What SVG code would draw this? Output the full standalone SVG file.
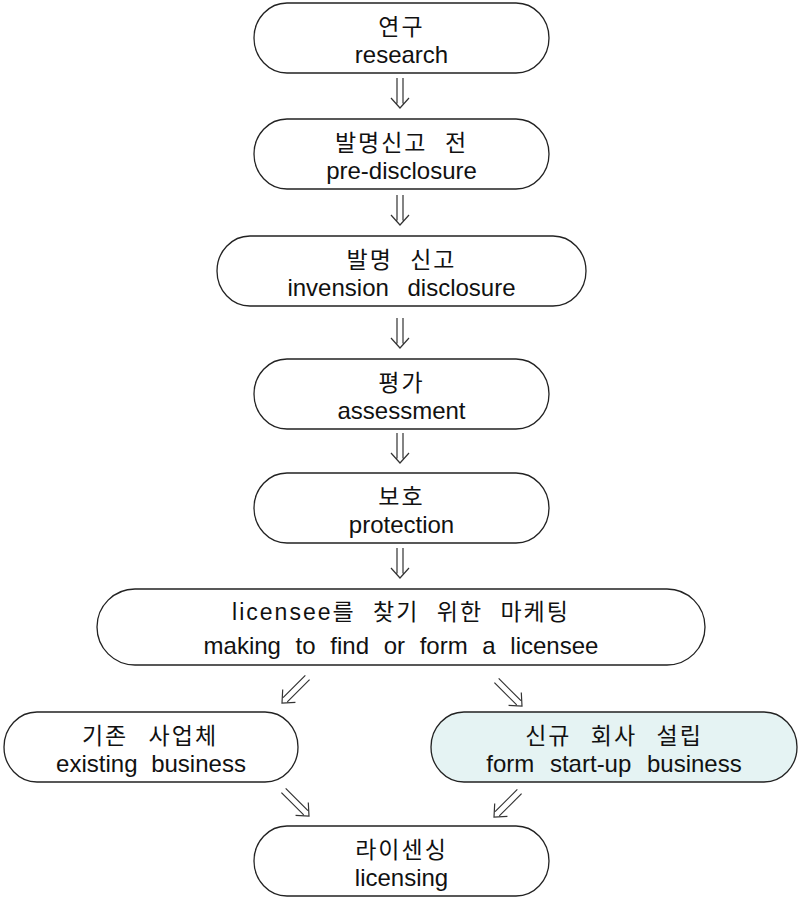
<svg xmlns="http://www.w3.org/2000/svg" xmlns:xlink="http://www.w3.org/1999/xlink" width="799" height="898" viewBox="0 0 799 898">
<style>
.box{fill:#fff;stroke:#222;stroke-width:1.3}
.hl{fill:#e5f3f3}
.ko{font-family:"Liberation Sans","Noto Sans CJK KR",sans-serif;font-size:23px;fill:#111;text-anchor:middle;letter-spacing:2px;word-spacing:9px}
.en{font-family:"Liberation Sans","Noto Sans CJK KR",sans-serif;font-size:24px;fill:#111;text-anchor:middle;word-spacing:7px}
.arr{fill:none;stroke:#333;stroke-width:1.2}
</style>
<defs>
<path id="a30" class="arr" d="M-3,-30V-4.5M3,-30V-4.5M-9,-10L0,0L9,-10"/>
<path id="a36" class="arr" d="M-3,-36V-4.5M3,-36V-4.5M-9,-10L0,0L9,-10"/>
</defs>
<g id="connectors">
<use xlink:href="#a30" transform="translate(400,108)"/>
<use xlink:href="#a30" transform="translate(400,225)"/>
<use xlink:href="#a30" transform="translate(400,348)"/>
<use xlink:href="#a30" transform="translate(400,463)"/>
<use xlink:href="#a30" transform="translate(400,578)"/>
<use xlink:href="#a36" transform="translate(282,703) rotate(45)"/>
<use xlink:href="#a36" transform="translate(522,706) rotate(-45)"/>
<use xlink:href="#a36" transform="translate(309,816) rotate(-45)"/>
<use xlink:href="#a36" transform="translate(494,817) rotate(45)"/>
</g>
<g id="n1"><rect class="box" x="254" y="3" width="295" height="70" rx="33" ry="35"/><text class="ko" x="401.5" y="35">연구</text><text class="en" x="401.5" y="63">research</text></g>
<g id="n2"><rect class="box" x="254" y="119" width="295" height="70" rx="33" ry="35"/><text class="ko" x="401.5" y="151">발명신고 전</text><text class="en" x="401.5" y="179">pre-disclosure</text></g>
<g id="n3"><rect class="box" x="217" y="236" width="369" height="70" rx="33" ry="35"/><text class="ko" x="401.5" y="268">발명 신고</text><text class="en" x="401.5" y="296" style="word-spacing:12px">invension disclosure</text></g>
<g id="n4"><rect class="box" x="254" y="359" width="295" height="70" rx="33" ry="35"/><text class="ko" x="401.5" y="391">평가</text><text class="en" x="401.5" y="419">assessment</text></g>
<g id="n5"><rect class="box" x="254" y="473" width="295" height="70" rx="33" ry="35"/><text class="ko" x="401.5" y="505">보호</text><text class="en" x="401.5" y="533">protection</text></g>
<g id="n6"><rect class="box" x="97" y="589" width="608" height="76" rx="38" ry="38"/><text class="ko" x="401" y="620">licensee를 찾기 위한 마케팅</text><text class="en" x="401" y="654" style="word-spacing:8px">making to find or form a licensee</text></g>
<g id="n7"><rect class="box" x="4" y="712" width="294" height="70" rx="33" ry="35"/><text class="ko" x="150" y="744" style="word-spacing:12px">기존 사업체</text><text class="en" x="151" y="772">existing business</text></g>
<g id="n8"><rect class="box hl" x="431" y="712" width="366" height="70" rx="33" ry="35"/><text class="ko" x="614" y="744" style="word-spacing:11px">신규 회사 설립</text><text class="en" x="614" y="772" style="word-spacing:9px">form start-up business</text></g>
<g id="n9"><rect class="box" x="254" y="826" width="295" height="70" rx="33" ry="35"/><text class="ko" x="401.5" y="858">라이센싱</text><text class="en" x="401.5" y="886">licensing</text></g>
</svg>
